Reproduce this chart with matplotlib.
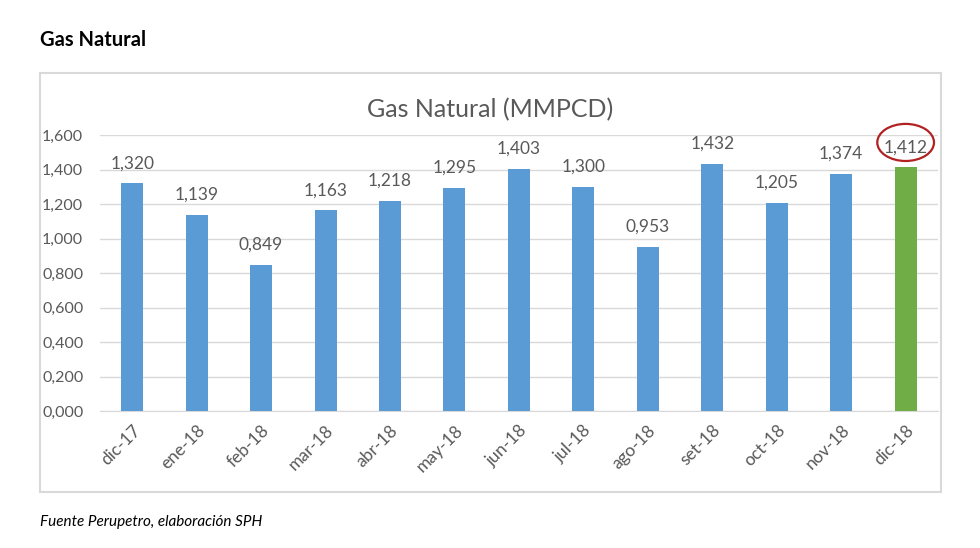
import matplotlib
matplotlib.use("Agg")
import matplotlib.pyplot as plt
from matplotlib.patches import Rectangle, Ellipse

plt.rcParams['font.family'] = ['Lato', 'DejaVu Sans']

# Datos
meses = ['dic-17', 'ene-18', 'feb-18', 'mar-18', 'abr-18', 'may-18', 'jun-18',
         'jul-18', 'ago-18', 'set-18', 'oct-18', 'nov-18', 'dic-18']
valores = [1.320, 1.139, 0.849, 1.163, 1.218, 1.295, 1.403,
           1.300, 0.953, 1.432, 1.205, 1.374, 1.412]
ticks_y = [0.0, 0.2, 0.4, 0.6, 0.8, 1.0, 1.2, 1.4, 1.6]

AZUL = '#5B9BD5'
VERDE = '#70AD47'
GRIS = '#595959'


def fmt(v):
    return f"{v:.3f}".replace('.', ',')


fig = plt.figure(figsize=(9.8, 5.48), dpi=100)
ax = fig.add_axes([0.102, 0.25, 0.855, 0.5036])

x = list(range(len(meses)))
colores = [AZUL] * (len(meses) - 1) + [VERDE]
ax.bar(x, valores, width=0.34, color=colores, zorder=3)

for xi, v in zip(x, valores):
    ax.annotate(fmt(v), (xi, v), xytext=(0, 14.5), textcoords='offset points',
                ha='center', va='center', fontsize=12.5, color=GRIS)

# resaltar el ultimo valor
ax.add_patch(Ellipse((x[-1], valores[-1] + 0.145), 0.88, 0.215, fill=False,
                     edgecolor='#B22222', linewidth=1.6, clip_on=False, zorder=4))

ax.set_xlim(-0.5, len(meses) - 0.5)
ax.set_ylim(0, 1.6)
ax.set_yticks(ticks_y)
ax.set_yticklabels([fmt(t) for t in ticks_y])
ax.set_xticks(x)
ax.set_xticklabels(meses, rotation=45, ha='right', rotation_mode='anchor')
ax.tick_params(axis='both', length=0, labelsize=12.5, labelcolor=GRIS)
ax.tick_params(axis='y', pad=12, labelsize=11.5)
ax.tick_params(axis='x', pad=8)
ax.grid(axis='y', color='#D9D9D9', linewidth=1, zorder=0)
for s in ['top', 'right', 'left']:
    ax.spines[s].set_visible(False)
ax.spines['bottom'].set_color('#D9D9D9')

fig.text(0.5, 0.80, 'Gas Natural (MMPCD)', ha='center', va='center',
         fontsize=18, color=GRIS)

# marco del grafico
fig.patches.append(Rectangle((40 / 980, 1 - 492 / 548), 901 / 980, 419 / 548,
                             transform=fig.transFigure, fill=False,
                             edgecolor='#D9D9D9', linewidth=1.5))

fig.text(40 / 980, 1 - 40 / 548, 'Gas Natural', ha='left', va='center',
         fontsize=14.5, fontweight='bold', color='black')
fig.text(40 / 980, 1 - 522 / 548, 'Fuente Perupetro, elaboración SPH',
         ha='left', va='center', fontsize=11, style='italic', color='black')

fig.savefig('out.png', dpi=100)
